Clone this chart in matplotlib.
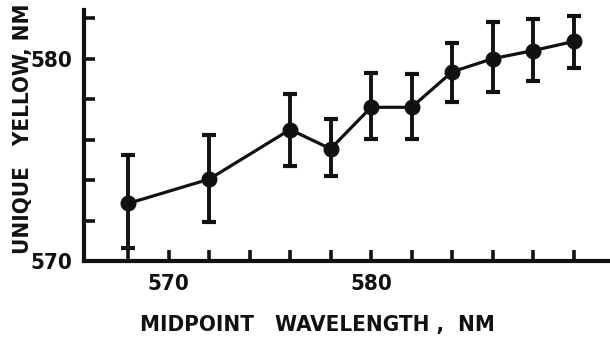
import matplotlib.pyplot as plt

# data
wavelength = [568, 572, 576, 578, 580, 582, 584, 586, 588, 590]
unique_yellow = [572.85, 574.05, 576.5, 575.55, 577.6, 577.6, 579.35, 580.0, 580.4, 580.85]
err_up = [2.4, 2.2, 1.75, 1.45, 1.7, 1.65, 1.45, 1.8, 1.55, 1.25]
err_down = [2.2, 2.1, 1.8, 1.35, 1.55, 1.55, 1.5, 1.65, 1.5, 1.3]

x_ticks = list(range(568, 591, 2))
y_ticks = list(range(570, 583, 2))

# condensed bold lettering, close to the hand-lettered original
txt = dict(family='DejaVu Sans', weight='bold', stretch='condensed', color='#111111')

fig = plt.figure(figsize=(6.1, 3.37), dpi=100)
ax = fig.add_axes([0.137, 0.225, 0.863, 0.745])

ax.errorbar(wavelength, unique_yellow, yerr=[err_down, err_up], color='#111111',
            marker='o', markersize=10.5, linewidth=2.3, elinewidth=2.8,
            capsize=4.8, capthick=3, zorder=3)

ax.set_xlim(565.8, 591.8)
ax.set_ylim(570, 582.4)

for side in ['top', 'right']:
    ax.spines[side].set_visible(False)
for side in ['left', 'bottom']:
    ax.spines[side].set_linewidth(3)
    ax.spines[side].set_color('#111111')

ax.set_xticks(x_ticks)
ax.set_xticklabels(['570' if t == 570 else '580' if t == 580 else '' for t in x_ticks], fontsize=16, **txt)
ax.set_yticks(y_ticks)
ax.set_yticklabels(['570' if t == 570 else '580' if t == 580 else '' for t in y_ticks], fontsize=16, **txt)
ax.tick_params(direction='in', length=8, width=2.6, color='#111111', pad=8)
ax.tick_params(axis='x', pad=9)

fig.text(0.52, 0.036, 'MIDPOINT   WAVELENGTH ,  NM', ha='center', va='center', fontsize=16, **txt)
fig.text(0.038, 0.617, 'UNIQUE   YELLOW, NM', ha='center', va='center', rotation=90, fontsize=16, **txt)

fig.savefig('out.png', dpi=100)
